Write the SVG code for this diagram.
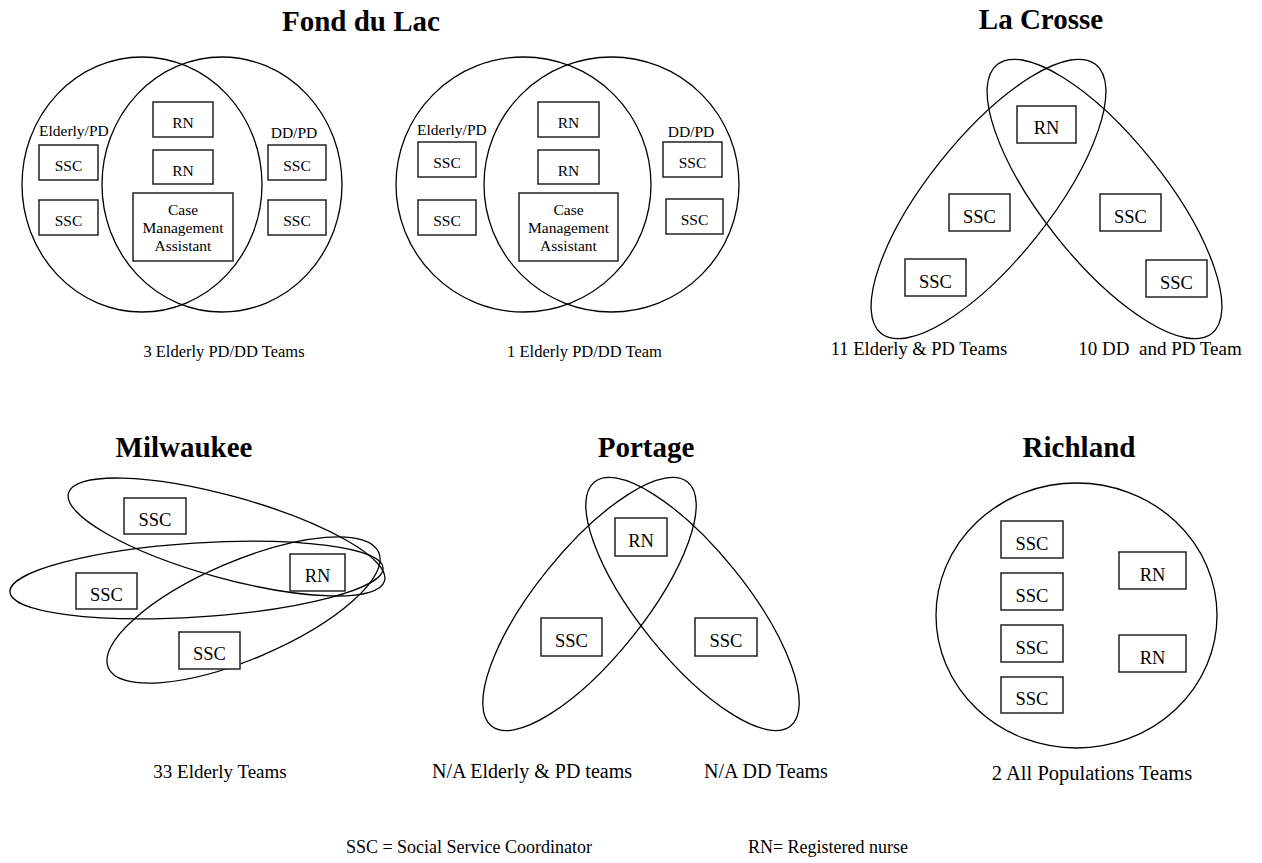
<svg xmlns="http://www.w3.org/2000/svg" width="1262" height="863" viewBox="0 0 1262 863">
<style>
text{font-family:"Liberation Serif","Times New Roman",serif;fill:#000}
.title{font-size:29px;font-weight:bold;text-anchor:middle}
.shape{fill:none;stroke:#000;stroke-width:1.3}
.box{fill:#fff;stroke:#222;stroke-width:1.5}
.bt{font-size:18.5px;text-anchor:middle}
.bs{font-size:15.5px;text-anchor:middle}
.ls{font-size:15.5px}
.lab{font-size:18px;text-anchor:middle;white-space:pre}
</style>
<rect width="1262" height="863" fill="#fff"/>

<g id="titles">
<text class="title" x="361" y="31">Fond du Lac</text>
<text class="title" x="1041" y="29">La Crosse</text>
<text class="title" x="184" y="457">Milwaukee</text>
<text class="title" x="646" y="457">Portage</text>
<text class="title" x="1079" y="457">Richland</text>
</g>

<g id="connectors">
<ellipse class="shape" cx="142" cy="184.5" rx="120" ry="127.5"/>
<ellipse class="shape" cx="222" cy="184.5" rx="120" ry="127.5"/>
<ellipse class="shape" cx="523.5" cy="184.5" rx="127.5" ry="127.5"/>
<ellipse class="shape" cx="611.5" cy="184.5" rx="127.5" ry="127.5"/>
<ellipse class="shape" cx="988.5" cy="199" rx="172" ry="61" transform="rotate(-51.4 988.5 199)"/>
<ellipse class="shape" cx="1104.5" cy="199" rx="172" ry="61" transform="rotate(51.4 1104.5 199)"/>
<ellipse class="shape" cx="226.5" cy="537" rx="164" ry="41" transform="rotate(15.5 226.5 537)"/>
<ellipse class="shape" cx="196.5" cy="580" rx="187" ry="37" transform="rotate(-3.7 196.5 580)"/>
<ellipse class="shape" cx="243.5" cy="610" rx="147" ry="49" transform="rotate(-23.1 243.5 610)"/>
<ellipse class="shape" cx="589.5" cy="604" rx="156.5" ry="54" transform="rotate(-51.2 589.5 604)"/>
<ellipse class="shape" cx="692.5" cy="604" rx="156.5" ry="54" transform="rotate(51.2 692.5 604)"/>
<ellipse class="shape" cx="1076.5" cy="615.5" rx="140.5" ry="132.5"/>
</g>

<g id="fdl1">
<text class="ls" x="39" y="136">Elderly/PD</text>
<text class="ls" x="294" y="138" text-anchor="middle">DD/PD</text>
<g id="fdl1-ssc1"><rect class="box" x="39" y="145" width="59" height="35"/><text class="bs" x="68.5" y="171">SSC</text></g>
<g id="fdl1-ssc2"><rect class="box" x="39" y="200" width="59" height="35"/><text class="bs" x="68.5" y="226">SSC</text></g>
<g id="fdl1-rn1"><rect class="box" x="153" y="102" width="60" height="35"/><text class="bs" x="183" y="128">RN</text></g>
<g id="fdl1-rn2"><rect class="box" x="153" y="150" width="60" height="34"/><text class="bs" x="183" y="176">RN</text></g>
<g id="fdl1-cma"><rect class="box" x="133" y="193" width="100" height="68"/><text class="bs" x="183" y="215">Case</text><text class="bs" x="183" y="233">Management</text><text class="bs" x="183" y="251">Assistant</text></g>
<g id="fdl1-ssc3"><rect class="box" x="268" y="145" width="58" height="35"/><text class="bs" x="297" y="171">SSC</text></g>
<g id="fdl1-ssc4"><rect class="box" x="268" y="200" width="58" height="35"/><text class="bs" x="297" y="226">SSC</text></g>
</g>

<g id="fdl2">
<text class="ls" x="417" y="135">Elderly/PD</text>
<text class="ls" x="691" y="137" text-anchor="middle">DD/PD</text>
<g id="fdl2-ssc1"><rect class="box" x="418" y="142" width="58" height="35"/><text class="bs" x="447" y="168">SSC</text></g>
<g id="fdl2-ssc2"><rect class="box" x="418" y="200" width="58" height="35"/><text class="bs" x="447" y="226">SSC</text></g>
<g id="fdl2-rn1"><rect class="box" x="538" y="102" width="61" height="35"/><text class="bs" x="568.5" y="128">RN</text></g>
<g id="fdl2-rn2"><rect class="box" x="538" y="150" width="61" height="34"/><text class="bs" x="568.5" y="176">RN</text></g>
<g id="fdl2-cma"><rect class="box" x="519" y="193" width="99" height="68"/><text class="bs" x="568.5" y="215">Case</text><text class="bs" x="568.5" y="233">Management</text><text class="bs" x="568.5" y="251">Assistant</text></g>
<g id="fdl2-ssc3"><rect class="box" x="663" y="142" width="59" height="35"/><text class="bs" x="692.5" y="168">SSC</text></g>
<g id="fdl2-ssc4"><rect class="box" x="666" y="199" width="57" height="35"/><text class="bs" x="694.5" y="225">SSC</text></g>
</g>

<g id="lacrosse">
<g id="lc-rn"><rect class="box" x="1017" y="106" width="59" height="37"/><text class="bt" x="1046.5" y="134">RN</text></g>
<g id="lc-ssc1"><rect class="box" x="949" y="194" width="61" height="37"/><text class="bt" x="979.5" y="222.5">SSC</text></g>
<g id="lc-ssc2"><rect class="box" x="905" y="259" width="61" height="37"/><text class="bt" x="935.5" y="287.5">SSC</text></g>
<g id="lc-ssc3"><rect class="box" x="1100" y="194" width="61" height="37"/><text class="bt" x="1130.5" y="222.5">SSC</text></g>
<g id="lc-ssc4"><rect class="box" x="1146" y="260" width="61" height="37"/><text class="bt" x="1176.5" y="288.5">SSC</text></g>
</g>

<g id="milwaukee">
<g id="mk-ssc1"><rect class="box" x="124" y="498" width="62" height="36"/><text class="bt" x="155" y="526">SSC</text></g>
<g id="mk-ssc2"><rect class="box" x="76" y="573" width="61" height="36"/><text class="bt" x="106.5" y="601">SSC</text></g>
<g id="mk-rn"><rect class="box" x="290" y="554" width="55" height="37"/><text class="bt" x="317.5" y="582">RN</text></g>
<g id="mk-ssc3"><rect class="box" x="179" y="632" width="61" height="37"/><text class="bt" x="209.5" y="660">SSC</text></g>
</g>

<g id="portage">
<g id="pt-rn"><rect class="box" x="615" y="518" width="52" height="38"/><text class="bt" x="641" y="547">RN</text></g>
<g id="pt-ssc1"><rect class="box" x="541" y="618" width="61" height="38"/><text class="bt" x="571.5" y="647">SSC</text></g>
<g id="pt-ssc2"><rect class="box" x="695" y="618" width="62" height="38"/><text class="bt" x="726" y="647">SSC</text></g>
</g>

<g id="richland">
<g id="rl-ssc1"><rect class="box" x="1001" y="521" width="62" height="37"/><text class="bt" x="1032" y="550">SSC</text></g>
<g id="rl-ssc2"><rect class="box" x="1001" y="573" width="62" height="37"/><text class="bt" x="1032" y="602">SSC</text></g>
<g id="rl-ssc3"><rect class="box" x="1001" y="625" width="62" height="37"/><text class="bt" x="1032" y="654">SSC</text></g>
<g id="rl-ssc4"><rect class="box" x="1001" y="677" width="62" height="36"/><text class="bt" x="1032" y="705">SSC</text></g>
<g id="rl-rn1"><rect class="box" x="1119" y="552" width="67" height="37"/><text class="bt" x="1152.5" y="581">RN</text></g>
<g id="rl-rn2"><rect class="box" x="1119" y="635" width="67" height="37"/><text class="bt" x="1152.5" y="664">RN</text></g>
</g>

<g id="labels">
<text class="lab" x="224" y="357" style="font-size:16.5px">3 Elderly PD/DD Teams</text>
<text class="lab" x="584.5" y="357" style="font-size:16.5px">1 Elderly PD/DD Team</text>
<text class="lab" x="919" y="355" style="font-size:18.5px">11 Elderly &amp; PD Teams</text>
<text class="lab" x="1160" y="355" style="font-size:19px" xml:space="preserve">10 DD  and PD Team</text>
<text class="lab" x="220" y="778" style="font-size:19px">33 Elderly Teams</text>
<text class="lab" x="532" y="778" style="font-size:20px">N/A Elderly &amp; PD teams</text>
<text class="lab" x="766" y="778" style="font-size:20px">N/A DD Teams</text>
<text class="lab" x="1092" y="780" style="font-size:20.5px">2 All Populations Teams</text>
<text class="lab" x="469" y="853">SSC = Social Service Coordinator</text>
<text class="lab" x="828" y="853">RN= Registered nurse</text>
</g>
</svg>
